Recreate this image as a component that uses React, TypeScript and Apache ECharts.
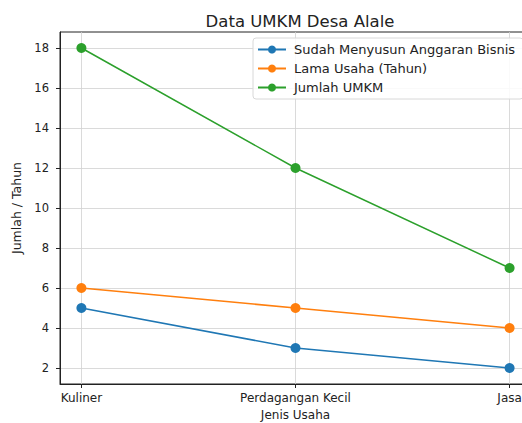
import React, { useEffect, useRef } from "react";
import * as echarts from "echarts";

const categories = ["Kuliner", "Perdagangan Kecil", "Jasa"];
const sudahMenyusun = [5, 3, 2];
const lamaUsaha = [6, 5, 4];
const jumlahUMKM = [18, 12, 7];
const yTicks = [2, 4, 6, 8, 10, 12, 14, 16, 18];
const xTicks = [0, 1, 2];

const FONT = "DejaVu Sans";

export default function App() {
  const ref = useRef<HTMLDivElement>(null);
  useEffect(() => {
    if (!ref.current) return;
    const chart = echarts.init(ref.current, null, { renderer: "svg" });
    const toPairs = (arr: number[]) => arr.map((v, i) => [i, v]);
    const mkSeries = (name: string, data: number[], color: string) => ({
      name,
      type: "line",
      data: toPairs(data),
      symbol: "circle",
      symbolSize: 10,
      itemStyle: { color },
      lineStyle: { color, width: 1.5 },
    });
    chart.setOption({
      animation: false,
      backgroundColor: "#ffffff",
      textStyle: { fontFamily: FONT },
      title: {
        text: "Data UMKM Desa Alale",
        left: 295,
        textAlign: "center",
        top: 8,
        textStyle: { fontFamily: FONT, fontSize: 16.5, fontWeight: "normal", color: "#222" },
      },
      legend: {
        orient: "vertical",
        left: 253,
        top: 38,
        itemWidth: 28,
        itemHeight: 10,
        itemGap: 6,
        padding: [5, 8, 5, 4],
        backgroundColor: "rgba(255,255,255,0.85)",
        borderColor: "#d8d8d8",
        borderWidth: 1,
        borderRadius: 3,
        textStyle: { fontFamily: FONT, fontSize: 13, color: "#222", padding: [0, 0, 0, 3] },
        data: ["Sudah Menyusun Anggaran Bisnis", "Lama Usaha (Tahun)", "Jumlah UMKM"],
      },
      grid: {
        left: 60,
        width: 471,
        top: 32,
        bottom: 39,
        outerBoundsMode: "none",
        containLabel: false,
        show: true,
        borderColor: "#222",
        borderWidth: 1,
      },
      xAxis: {
        type: "value",
        min: -0.1,
        max: 2.1,
        name: "Jenis Usaha",
        nameLocation: "middle",
        nameGap: 25,
        nameTextStyle: { fontFamily: FONT, fontSize: 12, color: "#222" },
        axisLine: { show: true, onZero: false, lineStyle: { color: "#222" } },
        axisTick: { show: true, customValues: xTicks, length: 4, lineStyle: { color: "#222" } },
        axisLabel: {
          customValues: xTicks,
          fontFamily: FONT,
          fontSize: 12,
          color: "#222",
          margin: 8,
          formatter: (v: number) => categories[Math.round(v)] ?? "",
        },
        splitLine: { show: true, lineStyle: { color: "#d0d0d0", width: 0.8 } },
      },
      yAxis: {
        type: "value",
        min: 1.2,
        max: 18.8,
        name: "Jumlah / Tahun",
        nameLocation: "middle",
        nameGap: 35,
        nameTextStyle: { fontFamily: FONT, fontSize: 12.5, color: "#222" },
        axisLine: { show: true, onZero: false, lineStyle: { color: "#222" } },
        axisTick: { show: true, customValues: yTicks, length: 4, lineStyle: { color: "#222" } },
        axisLabel: {
          customValues: yTicks,
          fontFamily: FONT,
          fontSize: 11.5,
          color: "#222",
          margin: 11,
        },
        splitLine: { show: true, lineStyle: { color: "#d0d0d0", width: 0.8 } },
      },
      series: [
        mkSeries("Sudah Menyusun Anggaran Bisnis", sudahMenyusun, "#1f77b4"),
        mkSeries("Lama Usaha (Tahun)", lamaUsaha, "#ff7f0e"),
        mkSeries("Jumlah UMKM", jumlahUMKM, "#2ca02c"),
      ],
    });
    return () => chart.dispose();
  }, []);
  return <div ref={ref} style={{ width: 522, height: 423, position: "absolute", left: 0, top: 0 }} />;
}
